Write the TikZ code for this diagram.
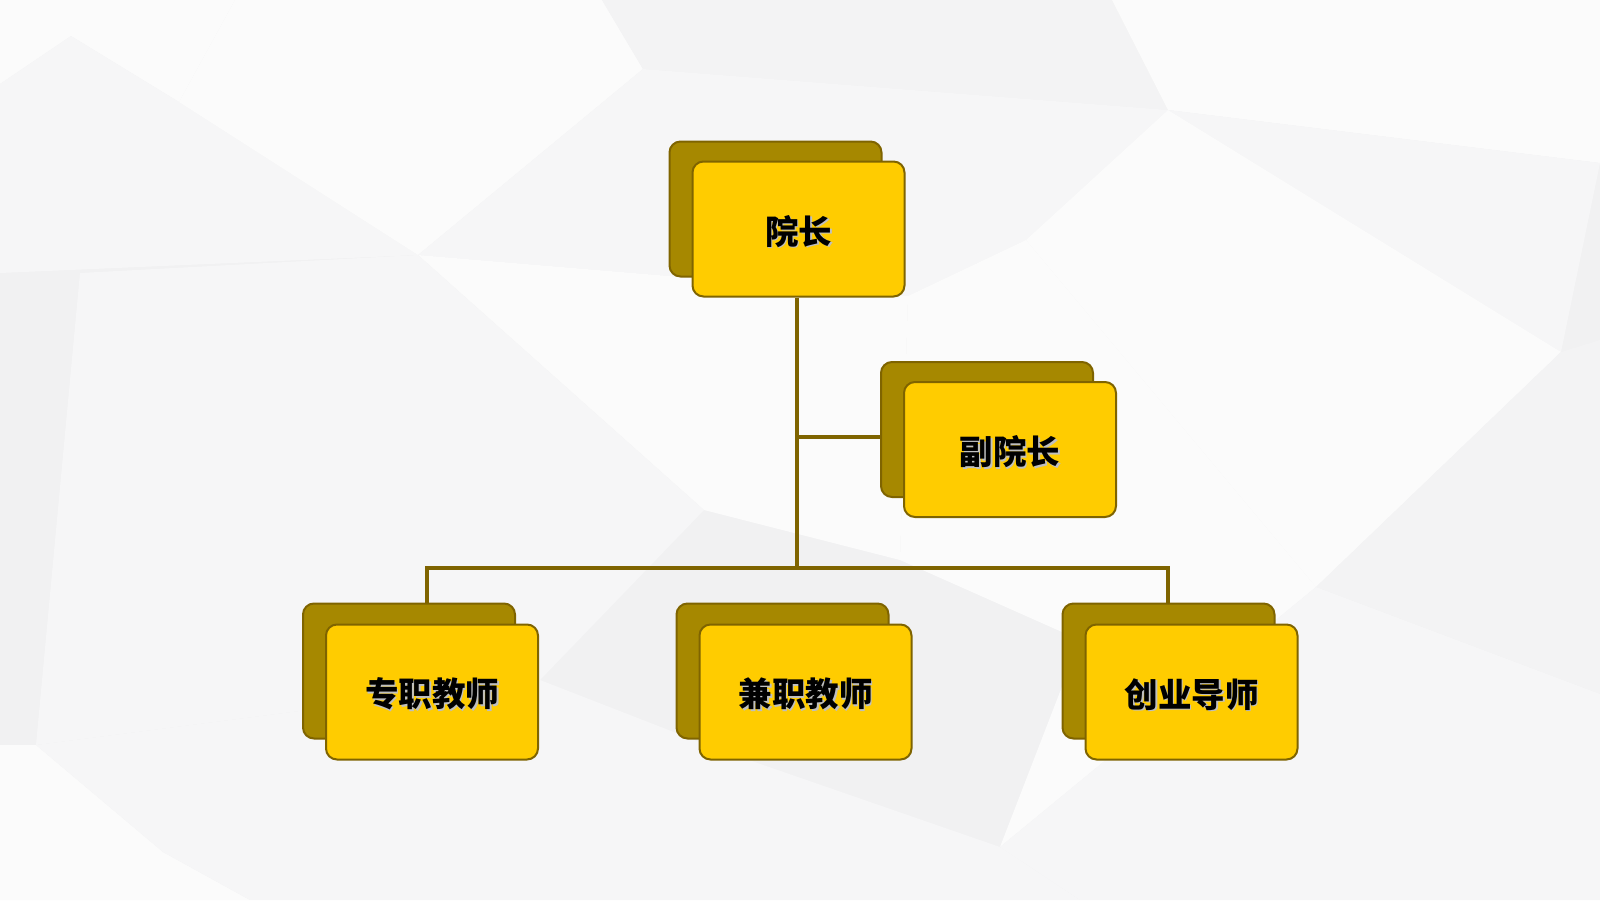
\documentclass[tikz,border=0pt]{standalone}
\usepackage{fontspec}
\newfontfamily\cjk{Noto Sans CJK SC}
\usetikzlibrary{calc}
\definecolor{bgbase}{HTML}{F1F1F2}
\definecolor{bglight}{HTML}{F6F6F7}
\definecolor{bgwhite}{HTML}{FBFBFB}
\definecolor{bgmid}{HTML}{F3F3F4}
\definecolor{frontfill}{HTML}{FFCC00}
\definecolor{backfill}{HTML}{A68800}
\definecolor{edge}{HTML}{7F6400}
\newcommand\shtxt[1]{\makebox[0pt][l]{\hspace{1.5pt}\raisebox{-1.5pt}{\textcolor{black!25}{#1}}}#1}
\tikzset{
  frontbox/.style={draw=edge, line width=2pt, fill=frontfill, rounded corners=11pt,
    minimum width=212pt, minimum height=135pt, inner sep=0pt,
    font=\cjk\bfseries\fontsize{33.5}{36}\selectfont, text=black},
  backbox/.style={draw=edge, line width=2pt, fill=backfill, rounded corners=11pt,
    minimum width=212pt, minimum height=135pt, inner sep=0pt},
  conn/.style={draw=edge, line width=3.4pt},
}
\begin{document}
\begin{tikzpicture}[x=1pt,y=-1pt]
\useasboundingbox (0,0) rectangle (1600,900);
% background
\fill[bgbase] (0,0) rectangle (1600,900);
\fill[bgwhite] (0,0) -- (235,0) -- (179,102) -- (71,36) -- (0,84) -- cycle;
\fill[bglight] (0,84) -- (71,36) -- (179,102) -- (418,255) -- (0,273) -- cycle;
\fill[bgwhite] (235,0) -- (602,0) -- (643,69) -- (418,255) -- (179,102) -- cycle;
\fill[bgmid] (602,0) -- (1112,0) -- (1168,110) -- (643,69) -- cycle;
\fill[bglight] (643,69) -- (1168,110) -- (1026,240) -- (908,296) -- (418,255) -- cycle;
\fill[bgwhite] (1112,0) -- (1600,0) -- (1600,163) -- (1168,110) -- cycle;
\fill[bglight] (1168,110) -- (1600,163) -- (1561,352) -- cycle;
\fill[bgwhite] (1026,240) -- (1168,110) -- (1561,352) -- (1316,587) -- cycle;
\fill[bgmid] (1561,352) -- (1600,340) -- (1600,694) -- (1316,587) -- cycle;
\fill[bgwhite] (418,255) -- (908,296) -- (900,560) -- (704,510) -- cycle;
\fill[bglight] (80,273) -- (418,255) -- (704,510) -- (540,680) -- (36,745) -- cycle;
\fill[bgwhite] (0,900) -- (0,745) -- (36,745) -- (163,852) -- (250,900) -- cycle;
\fill[bglight] (36,745) -- (540,680) -- (720,750) -- (1000,847) -- (1080,900) -- (250,900) -- (163,852) -- cycle;
\fill[bgwhite] (1026,240) -- (1316,587) -- (1000,847) -- (1080,640) -- (900,560) -- (908,296) -- cycle;
\fill[bglight] (1316,587) -- (1600,694) -- (1600,900) -- (1080,900) -- (1000,847) -- cycle;
% back boxes
\node[backbox] (deanB)  at (775.5,209) {};
\node[backbox] (viceB)  at (987,429.5) {};
\node[backbox] (fullB)  at (409,671) {};
\node[backbox] (partB)  at (782.5,671) {};
\node[backbox] (mentB)  at (1168.5,671) {};
% connector junctions
\coordinate (busL) at (427,568);
\coordinate (busR) at (1168,568);
\coordinate (vj) at (797,437);
% front boxes
\node[frontbox] (dean) at (798.5,229) {};
\node[frontbox] (vice) at (1010,449.5) {};
\node[frontbox] (full) at (432,692) {};
\node[frontbox] (part) at (805.5,692) {};
\node[frontbox] (ment) at (1191.5,692) {};
\path (dean) ++(0,3) node[frontbox, draw=none, fill=none, minimum width=0pt, minimum height=0pt] (deanT) {\shtxt{院长}};
\path (vice) ++(0,3) node[frontbox, draw=none, fill=none, minimum width=0pt, minimum height=0pt] (viceT) {\shtxt{副院长}};
\path (full) ++(0,3) node[frontbox, draw=none, fill=none, minimum width=0pt, minimum height=0pt] (fullT) {\shtxt{专职教师}};
\path (part) ++(0,3) node[frontbox, draw=none, fill=none, minimum width=0pt, minimum height=0pt] (partT) {\shtxt{兼职教师}};
\path (ment) ++(0,3) node[frontbox, draw=none, fill=none, minimum width=0pt, minimum height=0pt] (mentT) {\shtxt{创业导师}};
\draw[conn] (dean.south -| vj) -- (vj |- busL);
\draw[conn] (vj) -- (vj -| viceB.west);
\draw[conn] (fullB.north -| busL) -- (busL) -- (busR) -- (mentB.north -| busR);
\end{tikzpicture}
\end{document}
